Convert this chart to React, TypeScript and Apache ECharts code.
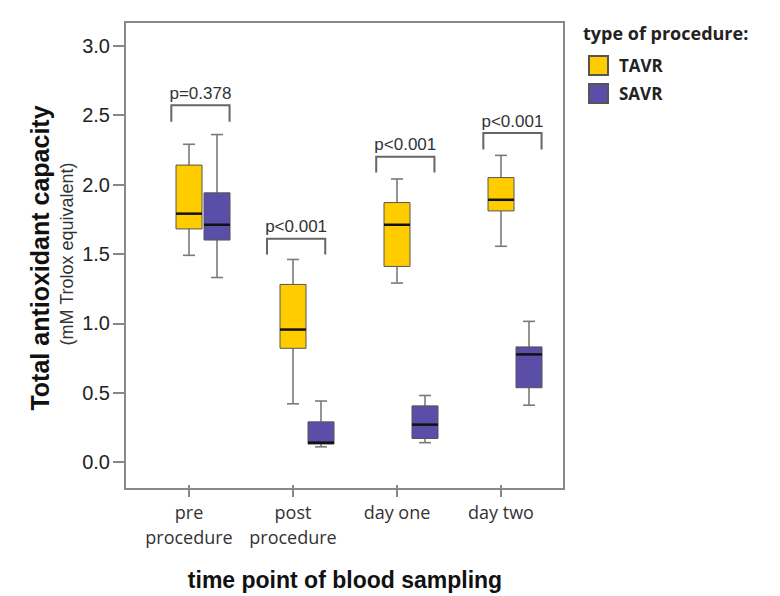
import React, { useEffect, useRef } from "react";
import * as echarts from "echarts";

// ---- data ----
const categories = ["pre\nprocedure", "post\nprocedure", "day one", "day two"];
const seriesNames = ["TAVR", "SAVR"];
// [min, q1, median, q3, max]
const tavrBoxes = [
  [1.49, 1.68, 1.79, 2.14, 2.29],
  [0.42, 0.82, 0.955, 1.28, 1.46],
  [1.29, 1.41, 1.71, 1.87, 2.04],
  [1.555, 1.81, 1.89, 2.05, 2.21],
];
const savrBoxes = [
  [1.33, 1.6, 1.71, 1.94, 2.36],
  [0.11, 0.13, 0.14, 0.29, 0.44],
  [0.14, 0.17, 0.27, 0.405, 0.48],
  [0.41, 0.536, 0.776, 0.83, 1.014],
];
const pLabels = ["p=0.378", "p<0.001", "p<0.001", "p<0.001"];
const bracketTop = [2.571, 1.61, 2.2, 2.371];
const bracketLeg = [2.452, 1.495, 2.086, 2.252];
const bracketLeft = [-0.17, -0.25, -0.2, -0.17];
const bracketRight = [0.39, 0.31, 0.36, 0.39];
const yTicks = [0, 0.5, 1, 1.5, 2, 2.5, 3];
const yMin = -0.165;
const yMax = 3.171;

const TAVR_COLOR = "#FFCC00";
const SAVR_COLOR = "#5A4EA8";

function makeBoxRenderer(offsetPx: number, fill: string) {
  return (params: any, api: any) => {
    const i = api.value(0);
    const cx = api.coord([i, 0])[0] + offsetPx;
    const y = (k: number) => api.coord([i, api.value(k)])[1];
    const yLo = y(1), yQ1 = y(2), yMed = y(3), yQ3 = y(4), yHi = y(5);
    const hw = 13, cw = 6;
    const whisker = { stroke: "#7a7a7a", lineWidth: 1.6 };
    return {
      type: "group",
      children: [
        { type: "line", shape: { x1: cx, y1: yHi, x2: cx, y2: yQ3 }, style: whisker },
        { type: "line", shape: { x1: cx, y1: yQ1, x2: cx, y2: yLo }, style: whisker },
        { type: "line", shape: { x1: cx - cw, y1: yHi, x2: cx + cw, y2: yHi }, style: whisker },
        { type: "line", shape: { x1: cx - cw, y1: yLo, x2: cx + cw, y2: yLo }, style: whisker },
        {
          type: "rect",
          shape: { x: cx - hw, y: yQ3, width: 2 * hw, height: yQ1 - yQ3 },
          style: { fill, stroke: "#555", lineWidth: 1 },
        },
        {
          type: "line",
          shape: { x1: cx - hw, y1: yMed, x2: cx + hw, y2: yMed },
          style: { stroke: "#111", lineWidth: 2.5 },
        },
      ],
    };
  };
}

function bracketRenderer(params: any, api: any) {
  const i = api.value(0);
  const idx = params.dataIndex;
  const cx = api.coord([i, 0])[0];
  const band = api.size([1, 0])[0];
  const x1 = cx + bracketLeft[idx] * band;
  const x2 = cx + bracketRight[idx] * band;
  const yT = api.coord([i, api.value(1)])[1];
  const yB = api.coord([i, api.value(2)])[1];
  return {
    type: "group",
    children: [
      {
        type: "polyline",
        shape: { points: [[x1, yB], [x1, yT], [x2, yT], [x2, yB]] },
        style: { stroke: "#666", lineWidth: 2, fill: "none" },
      },
      {
        type: "text",
        style: {
          text: pLabels[idx],
          x: (x1 + x2) / 2,
          y: yT - 12,
          align: "center",
          verticalAlign: "middle",
          fontSize: 17,
          fontFamily: "Liberation Sans, Arial, sans-serif",
          fill: "#333",
        },
      },
    ],
  };
}

export default function App() {
  const ref = useRef<HTMLDivElement>(null);
  useEffect(() => {
    if (!ref.current) return;
    const chart = echarts.init(ref.current, undefined, { renderer: "svg" });
    const option: any = {
      animation: false,
      backgroundColor: "#ffffff",
      grid: { left: 137, right: 227, top: 22, bottom: 107, show: false },
      xAxis: {
        type: "category",
        data: categories,
        position: "bottom",
        axisLine: { show: false, onZero: false },
        axisTick: {
          show: true,
          inside: false,
          interval: 0,
          alignWithLabel: true,
          length: 12,
          lineStyle: { color: "#888", width: 2 },
        },
        axisLabel: {
          interval: 0,
          margin: 14,
          fontSize: 18,
          lineHeight: 25,
          fontFamily: "Open Sans, sans-serif",
          color: "#333",
        },
        splitLine: { show: false },
        name: "time point of blood sampling",
        nameLocation: "middle",
        nameGap: 83,
        nameTextStyle: {
          fontSize: 23,
          fontWeight: "bold",
          fontFamily: "Liberation Sans, Arial, sans-serif",
          color: "#111",
        },
      },
      yAxis: {
        type: "value",
        min: yMin,
        max: yMax,
        offset: 12,
        axisLine: { show: false },
        axisTick: {
          show: true,
          customValues: yTicks,
          length: 12,
          lineStyle: { color: "#888", width: 2 },
        },
        axisLabel: {
          customValues: yTicks,
          margin: 15,
          fontSize: 20,
          fontFamily: "Liberation Sans, Arial, sans-serif",
          color: "#222",
          formatter: (v: number) => v.toFixed(1),
        },
        splitLine: { show: false },
      },
      legend: {
        data: seriesNames,
        orient: "vertical",
        left: 583,
        top: 50,
        itemWidth: 19,
        itemHeight: 19,
        itemGap: 7,
        icon: "rect",
        textStyle: {
          fontSize: 17,
          fontWeight: "bold",
          fontFamily: "Open Sans, sans-serif",
          color: "#222",
          padding: [0, 0, 0, 6],
        },
      },
      graphic: [
        {
          type: "rect",
          shape: { x: 125, y: 22, width: 439, height: 467 },
          style: { fill: "none", stroke: "#888", lineWidth: 2 },
          silent: true,
        },
        {
          type: "text",
          x: 40,
          y: 258,
          rotation: Math.PI / 2,
          style: {
            text: "Total antioxidant capacity",
            align: "center",
            verticalAlign: "middle",
            fontSize: 25,
            fontWeight: "bold",
            fontFamily: "Liberation Sans, Arial, sans-serif",
            fill: "#111",
          },
        },
        {
          type: "text",
          x: 67,
          y: 254,
          rotation: Math.PI / 2,
          style: {
            text: "(mM Trolox equivalent)",
            align: "center",
            verticalAlign: "middle",
            fontSize: 18,
            fontFamily: "Liberation Sans, Arial, sans-serif",
            fill: "#333",
          },
        },
        {
          type: "text",
          x: 583,
          y: 33,
          style: {
            text: "type of procedure:",
            align: "left",
            verticalAlign: "middle",
            fontSize: 18,
            fontWeight: "bold",
            fontFamily: "Open Sans, sans-serif",
            fill: "#222",
          },
        },
      ],
      series: [
        {
          name: "TAVR",
          type: "custom",
          renderItem: makeBoxRenderer(0, TAVR_COLOR),
          itemStyle: { color: TAVR_COLOR, borderColor: "#555", borderWidth: 1 },
          encode: { x: 0, y: [1, 2, 3, 4, 5] },
          data: tavrBoxes.map((b, i) => [i, ...b]),
          z: 3,
        },
        {
          name: "SAVR",
          type: "custom",
          renderItem: makeBoxRenderer(28, SAVR_COLOR),
          itemStyle: { color: SAVR_COLOR, borderColor: "#555", borderWidth: 1 },
          encode: { x: 0, y: [1, 2, 3, 4, 5] },
          data: savrBoxes.map((b, i) => [i, ...b]),
          z: 3,
        },
        {
          name: "brackets",
          type: "custom",
          renderItem: bracketRenderer,
          encode: { x: 0, y: [1, 2] },
          data: bracketTop.map((t, i) => [i, t, bracketLeg[i]]),
          z: 4,
        },
      ],
    };
    chart.setOption(option);
    return () => chart.dispose();
  }, []);
  return (
    <div
      ref={ref}
      style={{ position: "absolute", left: 0, top: 0, width: 780, height: 596, background: "#fff" }}
    />
  );
}
